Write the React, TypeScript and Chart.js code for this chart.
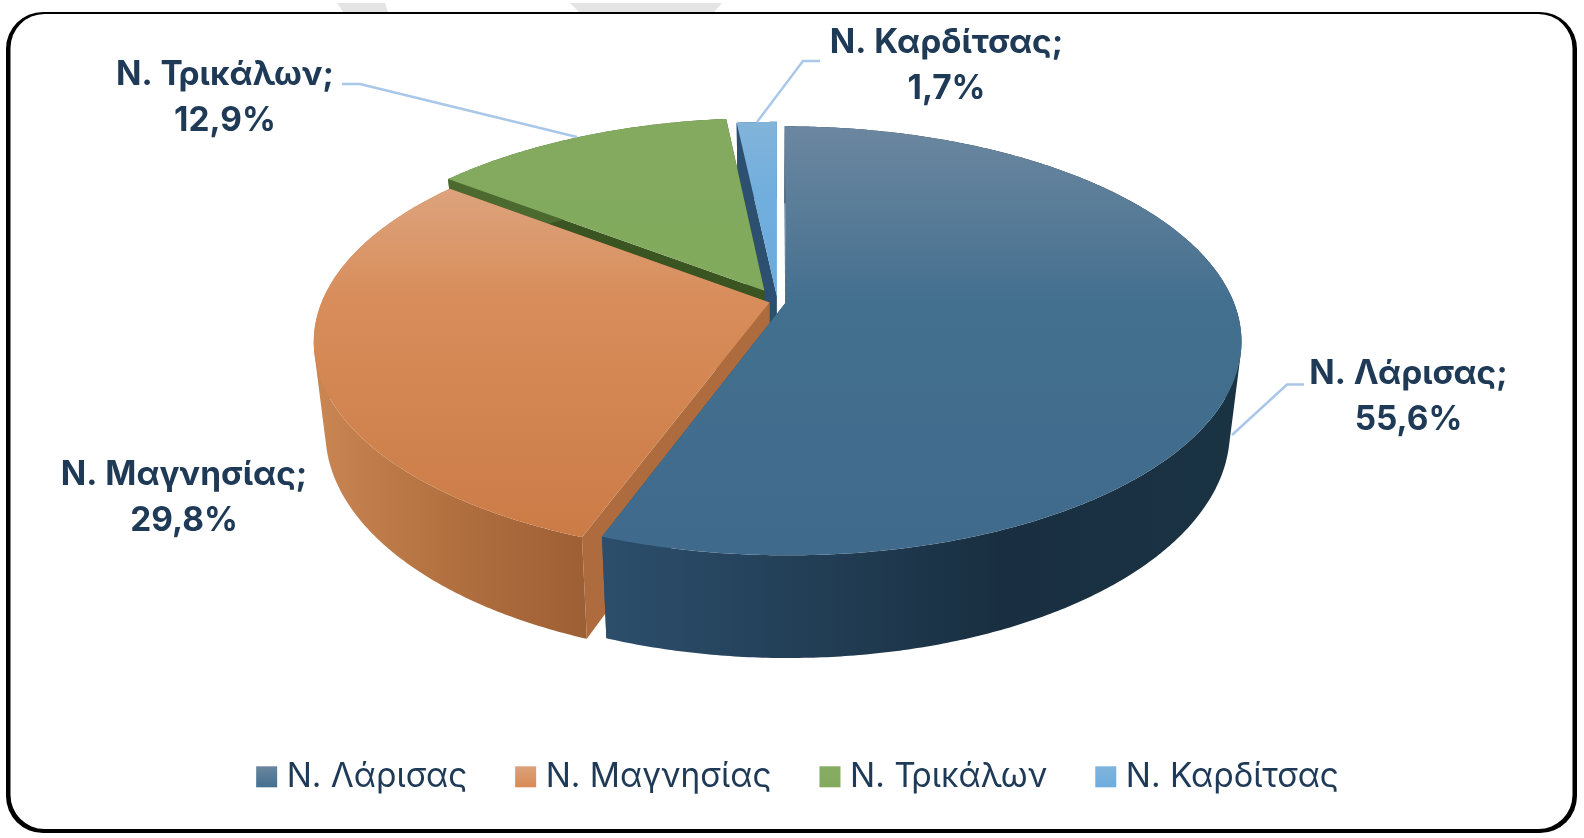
import React, { useEffect, useRef } from "react";
import { Chart, registerables } from "chart.js";

Chart.register(...registerables);

const categories = ["Ν. Λάρισας", "Ν. Μαγνησίας", "Ν. Τρικάλων", "Ν. Καρδίτσας"];
const shares = [55.6, 29.8, 12.9, 1.7];
const explode = [8.6, 8.4, 27, 12];
const legendColors = ["#44708f", "#d88a56", "#82aa5d", "#6fadde"];
const legendLight = ["#6a869f", "#dca27a", "#86ac62", "#80b3db"];

const topStops = [
  [[126, "#6c87a0"], [300, "#44708f"], [555, "#3f6a8c"]],
  [[185, "#dda47e"], [300, "#d88d5a"], [540, "#cb7b46"]],
  [[119, "#83aa5e"], [300, "#82aa5d"]],
  [[122, "#82b4da"], [200, "#70aede"], [300, "#6aaadc"]],
];
const rimStops = [
  [[605, "#2c4e6b"], [800, "#233f57"], [1000, "#192f41"], [1240, "#1a3343"]],
  [[318, "#c98552"], [450, "#b27040"], [600, "#9b5d33"]],
  [[440, "#4c6a30"], [730, "#4c6a30"]],
  [[730, "#2d5070"], [780, "#2d5070"]],
];
const wallColors = ["#2c4e6b", "#ad6b3e", "#3a5422", "#2d5070"];
const paintOrder = [3, 2, 1, 0];

const labelColor = "#1f3a56";
const leaderColor = "#a9c7e8";
const labelFont = "700 33.4px Inter";
const labelCenters = [
  [1408.5, 374],
  [184, 475],
  [225, 74.5],
  [946.5, 43],
];
const leaders = [
  [[1232, 435], [1287, 384.5], [1304, 384.5]],
  null,
  [[342, 84], [360, 84], [577, 137]],
  [[820, 61], [803, 61], [757, 122]],
];

const PIE = { cx: 777.5, cy: 301.5, rx: 447.5, ry: 207.3, k: 0.18, botCy: 389, botRy: 219.7, shrink: 0.975 };

function project(nx: number, ny: number, bottom: boolean): [number, number] {
  const w = 1 - PIE.k * ny;
  const s = bottom ? PIE.shrink : 1;
  return [
    PIE.cx + (s * PIE.rx * nx) / w,
    (bottom ? PIE.botCy : PIE.cy) + ((bottom ? PIE.botRy : PIE.ry) * ny) / w,
  ];
}

function gradient(ctx: CanvasRenderingContext2D, stops: any[], horizontal: boolean) {
  const a = stops[0][0];
  const b = stops[stops.length - 1][0];
  const g = horizontal ? ctx.createLinearGradient(a, 0, b, 0) : ctx.createLinearGradient(0, a, 0, b);
  for (const [p, c] of stops) g.addColorStop((p - a) / (b - a), c);
  return g;
}

function polygon(ctx: CanvasRenderingContext2D, pts: [number, number][], fill: any) {
  ctx.beginPath();
  pts.forEach((p, i) => (i ? ctx.lineTo(p[0], p[1]) : ctx.moveTo(p[0], p[1])));
  ctx.closePath();
  ctx.fillStyle = fill;
  ctx.fill();
}

function signedArea(q: [number, number][]) {
  let area = 0;
  q.forEach((p, i) => {
    const n = q[(i + 1) % q.length];
    area += p[0] * n[1] - n[0] * p[1];
  });
  return area;
}

const pie3d = {
  id: "pie3d",
  beforeDatasetDraw(chart: any, args: any) {
    const ctx: CanvasRenderingContext2D = chart.ctx;
    const arcs = chart.getDatasetMeta(args.index).data;
    ctx.save();
    for (const i of paintOrder) {
      const el = arcs[i];
      const { startAngle, endAngle } = el;
      const mid = (startAngle + endAngle) / 2;
      const off = el.options.offset / PIE.rx;
      const ox = Math.cos(mid) * off;
      const oy = Math.sin(mid) * off;
      const steps = Math.max(4, Math.ceil(((endAngle - startAngle) * 180) / Math.PI) * 2);
      const rim = (bottom: boolean) => {
        const pts: [number, number][] = [];
        for (let j = 0; j <= steps; j++) {
          const a = startAngle + ((endAngle - startAngle) * j) / steps;
          pts.push(project(Math.cos(a) + ox, Math.sin(a) + oy, bottom));
        }
        return pts;
      };
      const topRim = rim(false);
      const botRim = rim(true);
      const apexT = project(ox, oy, false);
      const apexB = project(ox, oy, true);
      polygon(ctx, [apexT, topRim[steps], botRim[steps], apexB], wallColors[i]);
      polygon(ctx, [apexT, topRim[0], botRim[0], apexB], wallColors[i]);
      // one path with every strip wound the same way: no seams and no holes
      ctx.beginPath();
      for (let j = 0; j < steps; j++) {
        const q: [number, number][] = [topRim[j], topRim[j + 1], botRim[j + 1], botRim[j]];
        if (signedArea(q) < 0) q.reverse();
        q.forEach((p, n) => (n ? ctx.lineTo(p[0], p[1]) : ctx.moveTo(p[0], p[1])));
        ctx.closePath();
      }
      ctx.fillStyle = gradient(ctx, rimStops[i], true);
      ctx.fill();
      polygon(ctx, [apexT, ...topRim], gradient(ctx, topStops[i], false));
    }
    ctx.restore();
    return false;
  },
  afterDraw(chart: any) {
    const ctx: CanvasRenderingContext2D = chart.ctx;
    ctx.save();
    ctx.strokeStyle = leaderColor;
    ctx.lineWidth = 2.4;
    leaders.forEach((line) => {
      if (!line) return;
      ctx.beginPath();
      line.forEach((p, j) => (j ? ctx.lineTo(p[0], p[1]) : ctx.moveTo(p[0], p[1])));
      ctx.stroke();
    });
    ctx.fillStyle = labelColor;
    ctx.font = labelFont;
    ctx.textAlign = "center";
    ctx.textBaseline = "middle";
    categories.forEach((name, i) => {
      const [x, y] = labelCenters[i];
      ctx.fillText(name + ";", x, y);
      ctx.fillText(shares[i].toFixed(1).replace(".", ",") + "%", x, y + 46);
    });
    const boxes = chart.legend.legendHitBoxes;
    boxes.forEach((b: any, i: number) => {
      const cy = b.top + b.height / 2 - 0.5;
      const g = ctx.createLinearGradient(0, cy - 10.5, 0, cy + 10.5);
      g.addColorStop(0, legendLight[i]);
      g.addColorStop(1, legendColors[i]);
      ctx.fillStyle = g;
      ctx.fillRect(b.left, cy - 10.5, 21, 21);
    });
    ctx.restore();
  },
  beforeDraw(chart: any) {
    const ctx: CanvasRenderingContext2D = chart.ctx;
    ctx.save();
    ctx.fillStyle = "#ffffff";
    ctx.fillRect(0, 0, 1584, 838);
    ctx.fillStyle = "#e4e4e4";
    ctx.beginPath();
    ctx.moveTo(337, 3); ctx.lineTo(385, 3); ctx.lineTo(388, 12); ctx.lineTo(343, 12); ctx.closePath();
    ctx.moveTo(570, 3); ctx.lineTo(722, 3); ctx.lineTo(714, 12); ctx.lineTo(579, 12); ctx.closePath();
    ctx.fill();
    ctx.fillStyle = "#000000";
    ctx.beginPath();
    ctx.roundRect(6, 12, 1571, 821, 37);
    ctx.fill();
    ctx.fillStyle = "#ffffff";
    ctx.beginPath();
    ctx.roundRect(10.5, 14, 1562, 815, 34);
    ctx.fill();
    ctx.restore();
  },
};

export default function App() {
  const ref = useRef<HTMLCanvasElement>(null);
  useEffect(() => {
    document.body.style.margin = "0";
    const chart = new Chart(ref.current as HTMLCanvasElement, {
      type: "pie",
      data: {
        labels: categories,
        datasets: [{ data: shares, offset: explode, backgroundColor: legendColors, borderWidth: 0 }],
      },
      options: {
        animation: false,
        responsive: false,
        devicePixelRatio: 1,
        layout: { padding: { left: 11, bottom: 34 } },
        plugins: {
          tooltip: { enabled: false },
          legend: {
            position: "bottom",
            labels: {
              boxWidth: 13.8,
              boxHeight: 13.8,
              padding: 48,
              color: labelColor,
              font: { family: "Inter", size: 33.4, weight: "400" },
              generateLabels: () =>
                categories.map((text, i) => ({
                  text,
                  index: i,
                  fontColor: labelColor,
                  fillStyle: "rgba(0,0,0,0)",
                  strokeStyle: "rgba(0,0,0,0)",
                  lineWidth: 0,
                  hidden: false,
                })),
            },
          },
        },
      } as any,
      plugins: [pie3d as any],
    });
    return () => chart.destroy();
  }, []);
  return <canvas ref={ref} width={1584} height={838} style={{ display: "block", filter: "blur(0.4px)" }} />;
}
